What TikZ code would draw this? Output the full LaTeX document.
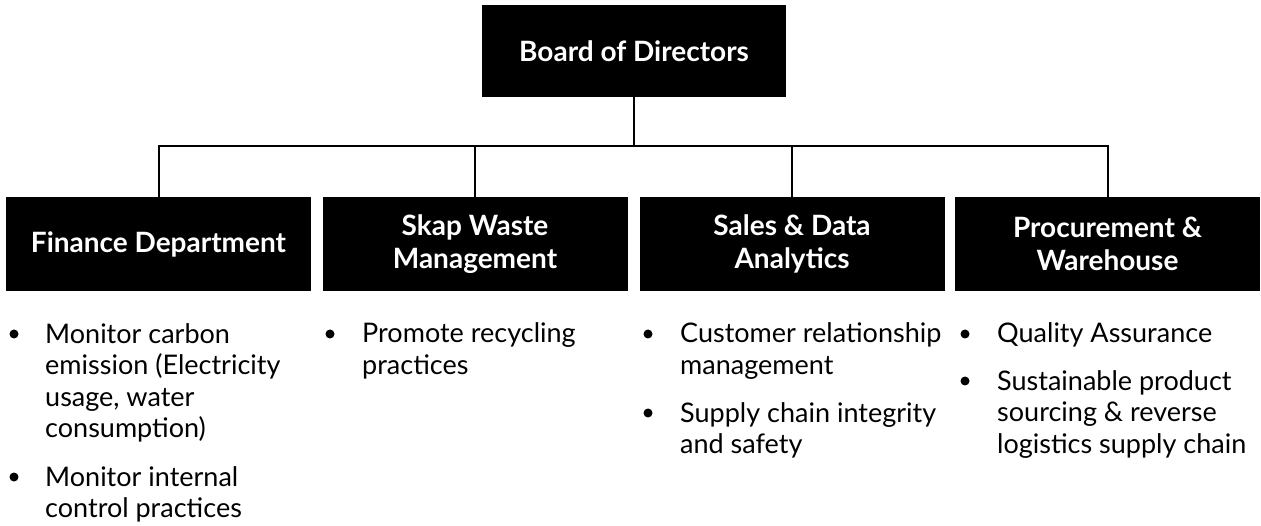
\documentclass[tikz,border=0pt]{standalone}
\usepackage{fontspec}
\setmainfont{Lato}
\begin{document}
\begin{tikzpicture}[x=1pt,y=-1pt,
  boardbox/.style={fill=black,text=white,font=\bfseries\fontsize{28}{33}\selectfont,
    align=center,minimum width=304pt,minimum height=92pt,inner sep=0pt},
  deptbox/.style={fill=black,text=white,font=\bfseries\fontsize{28}{33}\selectfont,
    align=center,minimum width=305pt,minimum height=94pt,inner sep=0pt},
  wire/.style={line width=2pt},
  dot/.style={circle,fill=black,minimum size=9pt,inner sep=0pt},
  % anchored at the baseline of the last line of each item
  item/.style={anchor=base west,align=left,inner sep=0pt,
    font=\fontsize{27}{31.6}\selectfont}]
  \useasboundingbox (0,0) rectangle (1261,526);

  % top of the hierarchy
  \node[boardbox] (board) at (634,51) {Board of Directors};

  % departments
  \node[deptbox] (fin)   at (158.5,244)  {Finance Department};
  \node[deptbox] (skap)  at (475,244)    {Skap Waste\\Management};
  \node[deptbox] (sales) at (792,244)    {Sales \& Data\\Analytics};
  \node[deptbox] (proc)  at (1107.5,244) {Procurement \&\\Warehouse};

  % connectors
  \coordinate (bus) at (634,146);
  \draw[wire] (board.south) -- (bus);
  \draw[wire] (fin.north) |- (bus);
  \draw[wire] (skap.north) |- (bus);
  \draw[wire] (sales.north) |- (bus);
  \draw[wire] (proc.north) |- (bus);

  % Finance duties
  \node[dot] (f1d) at (14,334) {};
  \node[item] (f1) at (45,437.8) {Monitor carbon\\emission (Electricity\\usage, water\\consumption)};
  \node[dot] (f2d) at (14,477) {};
  \node[item] (f2) at (45,517.6) {Monitor internal\\control practices};

  % Skap Waste duties
  \node[dot] (s1d) at (330,334) {};
  \node[item] (s1) at (362,374.6) {Promote recycling\\practices};

  % Sales duties
  \node[dot] (a1d) at (648,334) {};
  \node[item] (a1) at (680,374.6) {Customer relationship\\management};
  \node[dot] (a2d) at (648,413) {};
  \node[item] (a2) at (680,453.6) {Supply chain integrity\\and safety};

  % Procurement duties
  \node[dot] (p1d) at (965,334) {};
  \node[item] (p1) at (997,343) {Quality Assurance};
  \node[dot] (p2d) at (965,381) {};
  \node[item] (p2) at (997,453.2) {Sustainable product\\sourcing \& reverse\\logistics supply chain};
\end{tikzpicture}
\end{document}
